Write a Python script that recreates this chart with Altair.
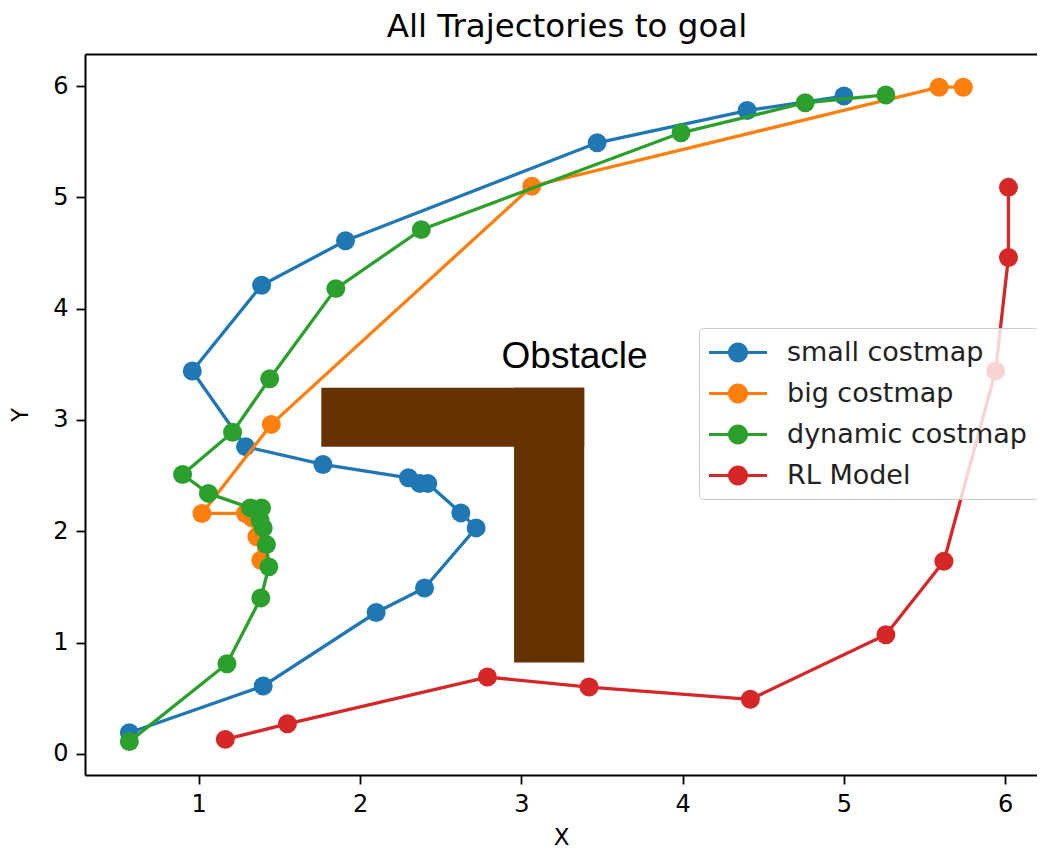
import altair as alt
import pandas as pd

series_names = ["small costmap", "big costmap", "dynamic costmap", "RL Model"]
series_colors = ["#1f77b4", "#ff7f0e", "#2ca02c", "#d62728"]

small_x = [0.57, 1.40, 2.10, 2.40, 2.72, 2.625, 2.42, 2.37, 2.30, 1.77, 1.29, 0.96, 1.39, 1.91, 3.47, 4.40, 5.00]
small_y = [0.19, 0.61, 1.27, 1.49, 2.03, 2.165, 2.43, 2.43, 2.48, 2.60, 2.76, 3.44, 4.21, 4.61, 5.49, 5.78, 5.91]

big_x = [1.385, 1.36, 1.33, 1.29, 1.02, 1.45, 3.065, 5.59, 5.74]
big_y = [1.74, 1.95, 2.12, 2.16, 2.16, 2.96, 5.10, 5.99, 5.99]

dyn_x = [0.57, 1.175, 1.385, 1.435, 1.42, 1.40, 1.38, 1.39, 1.32, 1.06, 0.90, 1.21, 1.44, 1.85, 2.38, 3.99, 4.76, 5.26]
dyn_y = [0.11, 0.81, 1.40, 1.68, 1.88, 2.03, 2.10, 2.21, 2.21, 2.34, 2.51, 2.89, 3.37, 4.18, 4.71, 5.58, 5.85, 5.92]

rl_x = [1.165, 1.55, 2.79, 3.42, 4.42, 5.26, 5.62, 5.94, 6.02, 6.02]
rl_y = [0.13, 0.27, 0.69, 0.60, 0.49, 1.07, 1.73, 3.44, 4.46, 5.09]

obstacle_x0 = [1.76, 2.955]
obstacle_x1 = [3.39, 3.39]
obstacle_y0 = [2.76, 0.82]
obstacle_y1 = [3.29, 3.29]
obstacle_label = ["Obstacle"]
obstacle_label_x = [3.33]
obstacle_label_y = [3.57]

x_ticks = [1, 2, 3, 4, 5, 6]
y_ticks = [0, 1, 2, 3, 4, 5, 6]

rows = []
for name, xs, ys in zip(series_names,
                        [small_x, big_x, dyn_x, rl_x],
                        [small_y, big_y, dyn_y, rl_y]):
    for i, (a, b) in enumerate(zip(xs, ys)):
        rows.append({"series": name, "i": i, "x": a, "y": b})
df = pd.DataFrame(rows)

obs_df = pd.DataFrame({"x0": obstacle_x0, "x1": obstacle_x1, "y0": obstacle_y0, "y1": obstacle_y1})
lab_df = pd.DataFrame({"label": obstacle_label, "x": obstacle_label_x, "y": obstacle_label_y})

W, H = 952, 721
xdom = [0.295, 6.197]
ydom = [-0.19, 6.288]

xscale = alt.Scale(domain=xdom, nice=False, zero=False)
yscale = alt.Scale(domain=ydom, nice=False, zero=False)
xaxis = alt.Axis(orient="bottom", values=x_ticks, format="d", title="X", grid=False)
yaxis = alt.Axis(orient="left", values=y_ticks, format="d", title="Y", grid=False)
top_axis = alt.Axis(orient="top", labels=False, ticks=False, title=None, grid=False, domain=True)

# symbol: horizontal line with a dot; r = sqrt(size)/2 = 14.5 -> line spans +-29 px
legend_path = ("M-2,-0.11 L2,-0.11 L2,0.11 L-2,0.11 Z "
               "M-0.69,0 A0.69,0.69 0 1,1 0.69,0 A0.69,0.69 0 1,1 -0.69,0 Z")

cscale = alt.Scale(domain=series_names, range=series_colors)

legend = alt.Legend(
    title=None,
    orient="none",
    legendX=614,
    legendY=274,
    symbolType=legend_path,
    symbolSize=841,
    symbolStrokeWidth=0,
    symbolOffset=14.5,
    labelFontSize=27,
    labelFont="DejaVu Sans",
    labelColor="#222222",
    labelOffset=34.5,
    labelLimit=500,
    padding=10,
    rowPadding=13,
    strokeColor="#cccccc",
    fillColor="rgba(255,255,255,0.8)",
    cornerRadius=4,
    symbolOpacity=1,
)
color = alt.Color("series:N", scale=cscale, legend=legend)

base = alt.Chart(df)

obstacle = alt.Chart(obs_df).mark_rect(color="#663300").encode(
    x=alt.X("x0:Q", scale=xscale, axis=xaxis),
    x2="x1:Q",
    y=alt.Y("y0:Q", scale=yscale, axis=yaxis),
    y2="y1:Q",
)

# legend carrier: a filled point layer with no rows drawn
legend_layer = base.transform_filter("false").mark_circle(size=360, opacity=1).encode(
    x=alt.X("x:Q", scale=xscale, axis=None),
    y=alt.Y("y:Q", scale=yscale, axis=yaxis),
    color=color,
)

label = alt.Chart(lab_df).mark_text(
    font="Liberation Sans", fontSize=37, color="black", align="center", baseline="middle"
).encode(
    x=alt.X("x:Q", scale=xscale, axis=top_axis),
    y=alt.Y("y:Q", scale=yscale, axis=yaxis),
    text="label:N",
)

layers = [obstacle, legend_layer, label]
for name in series_names:
    sub = base.transform_filter(alt.datum.series == name)
    line = sub.mark_line(strokeWidth=3.3).encode(
        x=alt.X("x:Q", scale=xscale, axis=None),
        y=alt.Y("y:Q", scale=yscale, axis=yaxis),
        order="i:Q",
        color=color,
    )
    pts = sub.mark_circle(size=360, opacity=1).encode(
        x=alt.X("x:Q", scale=xscale, axis=None),
        y=alt.Y("y:Q", scale=yscale, axis=yaxis),
        color=color,
    )
    layers += [line, pts]

chart = alt.layer(*layers).resolve_axis(x="independent").properties(
    width=W,
    height=H,
    title=alt.Title("All Trajectories to goal", fontSize=32.5, font="DejaVu Sans",
                    fontWeight="normal", anchor="middle", offset=11, dx=6, color="black"),
    autosize=alt.AutoSizeParams(type="none"),
    padding={"left": 77, "top": 46, "right": 0, "bottom": 75},
).configure_view(
    strokeWidth=0
).configure_axis(
    domainColor="black", domainWidth=2, tickColor="black", tickWidth=1.8, tickSize=9,
    labelFontSize=24, labelFont="DejaVu Sans", labelColor="black", labelPadding=8,
    titleFontSize=23, titleFont="DejaVu Sans", titleFontWeight="normal", titleColor="black",
).configure_axisX(
    titlePadding=10
).configure_axisY(
    titlePadding=20
)

chart.save("out.html", embed_options={"renderer": "svg", "actions": False})
